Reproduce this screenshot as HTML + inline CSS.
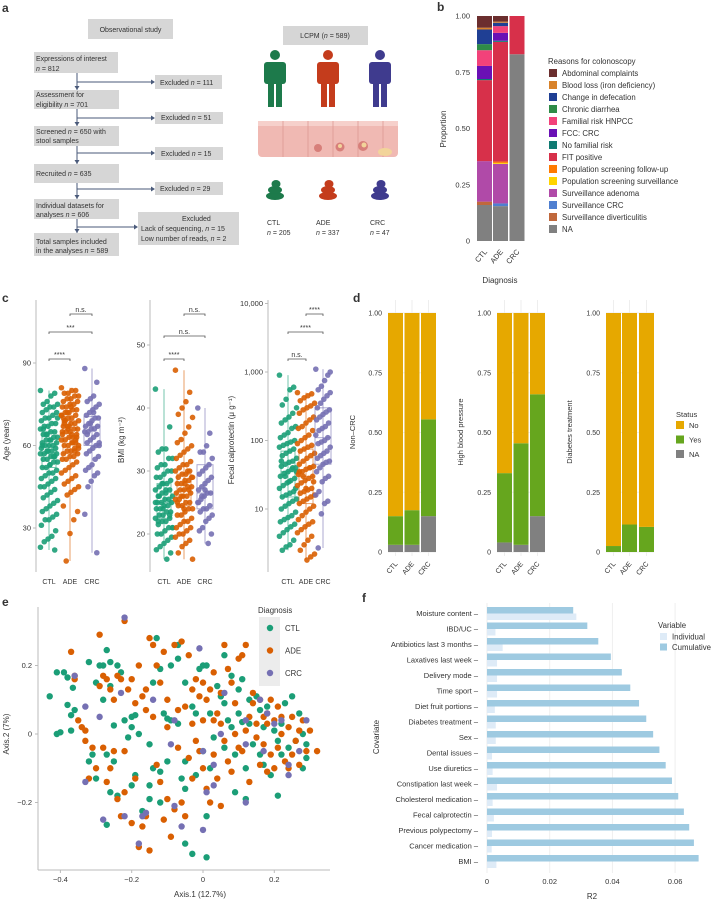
<!DOCTYPE html>
<html><head><meta charset="utf-8">
<style>
html,body{margin:0;padding:0;background:#fff;}
svg{display:block;font-family:"Liberation Sans",sans-serif;}
text{fill:#333;}
</style></head>
<body>
<svg id="fig" width="721" height="902" viewBox="0 0 721 902" xmlns="http://www.w3.org/2000/svg">
<!-- panel letters -->
<g font-weight="bold" font-size="12">
<text x="2" y="12" fill="#000">a</text><text x="437" y="11" fill="#000">b</text>
<text x="2" y="302" fill="#000">c</text><text x="353" y="302" fill="#000">d</text>
<text x="2" y="606" fill="#000">e</text><text x="362" y="602" fill="#000">f</text>
</g>
<!-- panel a flowchart -->
<g id="flow" font-size="7">
<rect x="88" y="19" width="85" height="20" fill="#d6d6d6"/>
<text x="130.5" y="32" text-anchor="middle">Observational study</text>
<line x1="77" y1="73" x2="77" y2="233" stroke="#4a5a7a" stroke-width="1"/>
<g fill="#d6d6d6">
<rect x="34" y="52" width="84" height="21"/><rect x="34" y="90" width="85" height="19"/>
<rect x="34" y="126" width="85" height="20"/><rect x="34" y="164" width="85" height="19"/>
<rect x="34" y="199" width="85" height="20"/><rect x="34" y="233" width="85" height="23"/>
<rect x="155" y="75" width="67" height="14"/><rect x="155" y="112" width="68" height="12"/>
<rect x="155" y="147" width="68" height="13"/><rect x="155" y="182" width="68" height="13"/>
<rect x="138" y="212" width="101" height="33"/>
</g>
<g stroke="#4a5a7a" stroke-width="1" fill="none">
<line x1="77" y1="82" x2="152" y2="82"/><line x1="77" y1="118" x2="152" y2="118"/>
<line x1="77" y1="153" x2="152" y2="153"/><line x1="77" y1="189" x2="152" y2="189"/>
<line x1="77" y1="227" x2="135" y2="227"/>
</g>
<g fill="#4a5a7a">
<path d="M155,82 l-4,-2.5 v5z"/><path d="M155,118 l-4,-2.5 v5z"/><path d="M155,153 l-4,-2.5 v5z"/><path d="M155,189 l-4,-2.5 v5z"/><path d="M138,227 l-4,-2.5 v5z"/>
<path d="M77,90 l-2.5,-4 h5z"/><path d="M77,126 l-2.5,-4 h5z"/><path d="M77,164 l-2.5,-4 h5z"/><path d="M77,199 l-2.5,-4 h5z"/><path d="M77,233 l-2.5,-4 h5z"/>
</g>
<text x="36" y="61">Expressions of interest</text><text x="36" y="71"><tspan font-style="italic">n</tspan> = 812</text>
<text x="36" y="97">Assessment for</text><text x="36" y="107">eligibility <tspan font-style="italic">n</tspan> = 701</text>
<text x="36" y="134">Screened <tspan font-style="italic">n</tspan> = 650 with</text><text x="36" y="143">stool samples</text>
<text x="36" y="176">Recruited <tspan font-style="italic">n</tspan> = 635</text>
<text x="36" y="208">Individual datasets for</text><text x="36" y="217">analyses <tspan font-style="italic">n</tspan> = 606</text>
<text x="36" y="244">Total samples included</text><text x="36" y="253">in the analyses <tspan font-style="italic">n</tspan> = 589</text>
<text x="160" y="85">Excluded <tspan font-style="italic">n</tspan> = 111</text>
<text x="161" y="120">Excluded <tspan font-style="italic">n</tspan> = 51</text>
<text x="161" y="156">Excluded <tspan font-style="italic">n</tspan> = 15</text>
<text x="160" y="191">Excluded <tspan font-style="italic">n</tspan> = 29</text>
<text x="182" y="221">Excluded</text>
<text x="141" y="231">Lack of sequencing, <tspan font-style="italic">n</tspan> = 15</text>
<text x="141" y="241">Low number of reads, <tspan font-style="italic">n</tspan> = 2</text>
</g>
<!-- panel a illustration -->
<g font-size="7">
<rect x="283" y="26" width="85" height="19" fill="#d6d6d6"/>
<text x="325" y="38" text-anchor="middle">LCPM (<tspan font-style="italic">n</tspan> = 589)</text>
<g fill="#1d7a4b"><circle cx="275" cy="55" r="5"/><rect x="264" y="62" width="22" height="22" rx="3"/><rect x="268" y="80" width="6" height="27"/><rect x="276" y="80" width="6" height="27"/></g>
<g fill="#c43c1c"><circle cx="328" cy="55" r="5"/><rect x="317" y="62" width="22" height="22" rx="3"/><rect x="321" y="80" width="6" height="27"/><rect x="329" y="80" width="6" height="27"/></g>
<g fill="#3f3b8e"><circle cx="380" cy="55" r="5"/><rect x="369" y="62" width="22" height="22" rx="3"/><rect x="373" y="80" width="6" height="27"/><rect x="381" y="80" width="6" height="27"/></g>
<g>
<rect x="258" y="121" width="140" height="36" fill="#f0b9b3" rx="4"/>
<rect x="258" y="121" width="140" height="5" fill="#f6d0cb"/>
<g stroke="#dd9a94" stroke-width="0.8"><line x1="283" y1="121" x2="283" y2="157"/><line x1="308" y1="121" x2="308" y2="157"/><line x1="333" y1="121" x2="333" y2="157"/><line x1="358" y1="121" x2="358" y2="157"/><line x1="383" y1="121" x2="383" y2="157"/></g>
<circle cx="318" cy="148" r="4" fill="#d77f7a"/><circle cx="340" cy="147" r="4.5" fill="#d77f7a"/><circle cx="340" cy="146" r="2" fill="#f2d49a"/>
<circle cx="363" cy="146" r="5" fill="#d77f7a"/><circle cx="364" cy="145" r="2.5" fill="#f2d49a"/><ellipse cx="385" cy="152" rx="7" ry="4" fill="#f2d49a"/>
</g>
<g fill="#1d7a4b"><ellipse cx="275" cy="196" rx="9" ry="4"/><ellipse cx="275" cy="190" rx="7" ry="4"/><ellipse cx="276" cy="184" rx="4.5" ry="4"/></g>
<g fill="#c43c1c"><ellipse cx="328" cy="196" rx="9" ry="4"/><ellipse cx="328" cy="190" rx="7" ry="4"/><ellipse cx="329" cy="184" rx="4.5" ry="4"/></g>
<g fill="#3f3b8e"><ellipse cx="380" cy="196" rx="9" ry="4"/><ellipse cx="380" cy="190" rx="7" ry="4"/><ellipse cx="381" cy="184" rx="4.5" ry="4"/></g>
<text x="267" y="225">CTL</text><text x="267" y="235"><tspan font-style="italic">n</tspan> = 205</text>
<text x="316" y="225">ADE</text><text x="316" y="235"><tspan font-style="italic">n</tspan> = 337</text>
<text x="370" y="225">CRC</text><text x="370" y="235"><tspan font-style="italic">n</tspan> = 47</text>
</g>
<g id="pb"></g>
<g id="pc"></g>
<g id="pd"></g>
<g id="pe"></g>
<g id="pf"></g>
</svg>
<script>
const NS="http://www.w3.org/2000/svg";
function mk(p,tag,a,txt){const e=document.createElementNS(NS,tag);for(const k in a)e.setAttribute(k,a[k]);if(txt!==undefined)e.textContent=txt;p.appendChild(e);return e;}

/* ---------- Panel b data ---------- */
const bCats=["CTL","ADE","CRC"];
const bReasons=["Abdominal complaints","Blood loss (iron deficiency)","Change in defecation","Chronic diarrhea","Familial risk HNPCC","FCC: CRC","No familial risk","FIT positive","Population screening follow-up","Population screening surveillance","Surveillance adenoma","Surveillance CRC","Surveillance diverticulitis","NA"];
const bColors=["#6b2e2e","#d8822a","#1f3f94","#2e8b47","#f2427a","#6a10b5","#0f7a72","#d7304a","#ff7a00","#ffd400","#b04aa8","#4f7fd0","#c0683c","#808080"];
const bCTL=[0.052,0.008,0.065,0.027,0.07,0.058,0.005,0.36,0,0,0.18,0,0.015,0.16];
const bADE=[0.025,0.005,0.015,0,0.03,0.035,0.005,0.532,0.006,0.004,0.176,0.012,0,0.155];
const bCRC=[0,0,0,0,0,0,0,0.17,0,0,0,0,0,0.83];
(function(){
 const g=document.getElementById('pb');
 const y=v=>241-v*225, x0=[477,493,509.5], bw=15;
 [0,0.25,0.5,0.75,1].forEach((t,i)=>{const lab=["0","0.25","0.50","0.75","1.00"][i];
  const e=mk(g,'text',{x:470,y:y(t)+2.5,'text-anchor':'end','font-size':7.5},lab);
  });
 const ylab=mk(g,'text',{x:446,y:129,'text-anchor':'middle','font-size':8,transform:'rotate(-90 446 129)'},"Proportion");
 
 [bCTL,bADE,bCRC].forEach((vals,ci)=>{
  let acc=0;
  for(let k=vals.length-1;k>=0;k--){const v=vals[k];if(v<=0)continue;
   const r=mk(g,'rect',{x:x0[ci],y:y(acc+v),width:bw,height:v*225,fill:bColors[k]});
   acc+=v;}
  const t=mk(g,'text',{x:x0[ci]+bw/2+3,y:252,'text-anchor':'end','font-size':7.5,transform:`rotate(-50 ${x0[ci]+bw/2+3} 252)`},bCats[ci]);
  
 });
 const xt=mk(g,'text',{x:500,y:283,'text-anchor':'middle','font-size':8},"Diagnosis");
 
 const lt=mk(g,'text',{x:548,y:64,'font-size':7.8},"Reasons for colonoscopy");
 
 bReasons.forEach((r,i)=>{const yy=69+i*12;
  const s=mk(g,'rect',{x:549,y:yy,width:8,height:8,fill:bColors[i]});
  
  const t=mk(g,'text',{x:562,y:yy+7,'font-size':7.8},r);
  });
})();

/* ---------- Panel c data ---------- */
const cGroups=["CTL","ADE","CRC"];
const cColors=["#1b9e77","#d95f02","#7570b3"];
const ageCTL=[80,79,78,76,75,75,74,74,73,72,72,71,70,70,69,68,68,67,67,66,65,65,64,64,63,63,62,62,61,61,60,60,60,59,59,58,58,57,57,56,56,55,55,54,54,53,52,52,51,50,50,49,48,48,47,46,45,45,44,43,42,41,40,39,38,37,36,35,34,33,33,31,29,27,26,25,23,22,62,58,66,70,56,53,64,60,57];
const ageADE=[81,80,80,79,79,78,78,77,77,76,76,75,75,74,74,73,73,72,72,71,71,70,70,69,69,68,68,67,67,66,66,65,65,64,64,63,63,62,62,61,61,60,60,59,59,58,58,57,57,56,56,55,55,54,53,52,51,50,49,48,47,46,45,44,43,42,38,36,33,28,18,65,63,61,67,69,71,62,64,66,68,60,58,74,72,70];
const ageCRC=[88,83,78,77,76,75,74,73,72,71,70,70,69,68,67,67,66,66,65,65,64,63,62,61,60,60,59,58,57,56,55,53,52,51,50,49,47,45,35,21,72,68,64,61];
const ageBox=[[52,57,65],[57,63,69],[60,67,70.5]];
const bmiCTL=[43,37,33.5,33.5,33,32,32,31,31,30.5,30,30,29.5,29,29,28.5,28,28,27.5,27,27,26.5,26.5,26,26,25.5,25.5,25,25,25,24.5,24.5,24,24,23.5,23.5,23,23,22.5,22.5,22,22,21.5,21,21,20.5,20,20,19.5,19,18.5,18,17.5,17,16,24,26,25,23,27,28,22,21];
const bmiADE=[46,42.5,41,40,39,38.5,37,36,35,34.5,34,33.5,33,32.5,32,31.5,31,31,30.5,30,30,29.5,29.5,29,29,28.5,28.5,28,28,27.5,27.5,27,27,26.5,26.5,26,26,25.5,25.5,25,25,24.5,24.5,24,24,23.5,23,23,22.5,22,22,21.5,21,21,20.5,20,20,19.5,19,18.5,18,17,16,27,28,26,25,29,30,24];
const bmiCRC=[40,36,34,33,33,32,31,30.5,30,29.5,29,28.5,28,27.5,27,26.5,26.5,26,25.5,25,24.5,24,24,23.5,23,22.5,22,21,20.5,20,18.5,27,26,25];
const bmiBox=[[22.5,25,28],[24.5,27,29.5],[24,26.5,31]];
const fcCTL=[900,600,550,400,330,300,250,220,200,180,160,150,130,120,110,100,95,90,85,80,75,70,65,60,55,50,48,45,42,40,38,35,33,30,28,26,24,22,20,18,17,16,15,14,13,12,11,10,9,8,7.5,7,6.5,6,5.5,5,4.5,4,3.5,3,2.8,2.5,35,40,25,30,50,20];
const fcADE=[500,480,450,420,380,350,320,300,280,250,220,200,180,160,150,140,120,110,100,90,85,80,75,70,65,60,55,50,45,42,40,38,35,32,30,28,26,24,22,20,19,18,17,16,15,14,13,12,11,10,9,8,7,6.5,6,5.5,5,4.5,4,3.5,3,2.5,2.2,2,1.8,30,35,25,40,20];
const fcCRC=[1100,900,750,620,550,500,450,400,350,300,280,260,240,220,200,180,160,150,140,120,110,100,95,90,80,70,65,60,55,50,48,45,40,35,30,28,25,18,16,13,12,8.5,2.7,1000];
const fcBox=[[15,35,70],[12,30,75],[45,110,300]];
const ageTicks=[30,60,90], bmiTicks=[20,30,40,50], fcTicks=[10,100,1000,10000];
const fcTickLabels=["10","100","1,000","10,000"];
(function(){
 const g=document.getElementById('pc');
 const panels=[
  {ax:36,gx:[49,70,92],scale:v=>528-(v-30)*2.75,ticks:ageTicks,tl:ageTicks.map(String),data:[ageCTL,ageADE,ageCRC],box:ageBox,lab:"Age (years)",labx:9,
   sig:[["n.s.",1,2,314],["***",0,2,332],["****",0,1,359]]},
  {ax:150,gx:[164,184,205],scale:v=>534-(v-20)*6.3,ticks:bmiTicks,tl:bmiTicks.map(String),data:[bmiCTL,bmiADE,bmiCRC],box:bmiBox,lab:"BMI (kg m⁻²)",labx:124,
   sig:[["n.s.",1,2,314],["n.s.",0,2,336],["****",0,1,359]]},
  {ax:268,gx:[288,306,323],scale:v=>509-(Math.log10(v)-1)*68.5,ticks:fcTicks,tl:fcTickLabels,data:[fcCTL,fcADE,fcCRC],box:fcBox,lab:"Fecal calprotectin (μ g⁻¹)",labx:234,
   sig:[["****",1,2,314],["****",0,2,332],["n.s.",0,1,359]]}];
 panels.forEach((p,pi)=>{
  const al=mk(g,'line',{x1:p.ax,y1:300,x2:p.ax,y2:572,stroke:'#bbb','stroke-width':1});
  
  p.ticks.forEach((t,i)=>{const yy=p.scale(t);
   mk(g,'line',{x1:p.ax-3,y1:yy,x2:p.ax,y2:yy,stroke:'#bbb'});
   const e=mk(g,'text',{x:p.ax-5,y:yy+2.5,'text-anchor':'end','font-size':7.5},p.tl[i]);
   });
  const l=mk(g,'text',{x:p.labx,y:440,'text-anchor':'middle','font-size':8,transform:`rotate(-90 ${p.labx} 440)`},p.lab);
  
  p.data.forEach((arr,gi)=>{const cx=p.gx[gi],b=p.box[gi],hw=gi==2?8:7;
   const bx=mk(g,'rect',{x:cx-hw,y:p.scale(b[2]),width:hw*2,height:p.scale(b[0])-p.scale(b[2]),fill:'none',stroke:cColors[gi],'stroke-opacity':0.6});
   
   mk(g,'line',{x1:cx-hw,x2:cx+hw,y1:p.scale(b[1]),y2:p.scale(b[1]),stroke:cColors[gi],'stroke-opacity':0.6});
   const mx=Math.max(...arr),mn=Math.min(...arr);
   mk(g,'line',{x1:cx,x2:cx,y1:p.scale(mx),y2:p.scale(mn),stroke:cColors[gi],'stroke-opacity':0.6});
   arr.forEach((v,i)=>{const jit=(((i*53)%19)-9)*(gi==2?0.8:0.95);
    const c=mk(g,'circle',{cx:cx+jit,cy:p.scale(v),r:2.8,fill:cColors[gi],'fill-opacity':0.9});
    });
   const t=mk(g,'text',{x:cx,y:584,'text-anchor':'middle','font-size':7},cGroups[gi]);
   
  });
  p.sig.forEach(s=>{const x1=p.gx[s[1]],x2=p.gx[s[2]];
   const br=mk(g,'path',{d:`M${x1},${s[3]+2}V${s[3]}H${x2}V${s[3]+2}`,fill:'none',stroke:'#555','stroke-width':0.8});
   
   const t=mk(g,'text',{x:(x1+x2)/2,y:s[3]-2,'text-anchor':'middle','font-size':7},s[0]);
   });
 });
})();

/* ---------- Panel d data ---------- */
const dCats=["CTL","ADE","CRC"];
const dStatus=["No","Yes","NA"];
const dColors=["#e6a800","#66a61e","#808080"];
const dNonCrcYes=[0.12,0.145,0.405], dNonCrcNA=[0.03,0.03,0.15];
const dHbpYes=[0.29,0.425,0.51], dHbpNA=[0.04,0.03,0.15];
const dDiabYes=[0.025,0.115,0.105], dDiabNA=[0,0,0];
(function(){
 const g=document.getElementById('pd');
 const y=v=>552-v*239;
 const subs=[{x:[388,404.5,421],lab:"Non–CRC",lx:355,tx:382,yes:dNonCrcYes,na:dNonCrcNA},
  {x:[497,513.5,530],lab:"High blood pressure",lx:463,tx:491,yes:dHbpYes,na:dHbpNA},
  {x:[606,622,639],lab:"Diabetes treatment",lx:572,tx:600,yes:dDiabYes,na:dDiabNA}];
 subs.forEach(s=>{
  [0,0.25,0.5,0.75,1].forEach((t,i)=>{const lab=["0","0.25","0.50","0.75","1.00"][i];
   mk(g,'line',{x1:s.x[0],x2:s.x[2]+15,y1:y(t),y2:y(t),stroke:'#eee'});
   const e=mk(g,'text',{x:s.tx,y:y(t)+2.5,'text-anchor':'end','font-size':7},lab);
   });
  s.x.forEach(xx=>mk(g,'line',{x1:xx+7.5,x2:xx+7.5,y1:300,y2:556,stroke:'#eee'}));
  const l=mk(g,'text',{x:s.lx,y:432,'text-anchor':'middle','font-size':7.5,transform:`rotate(-90 ${s.lx} 432)`},s.lab);
  
  s.x.forEach((xx,ci)=>{const na=s.na[ci],ye=s.yes[ci],no=1-na-ye;
   const segs=[[na,0,2],[ye,na,1],[no,na+ye,0]];
   segs.forEach(sg=>{if(sg[0]<=0)return;
    const r=mk(g,'rect',{x:xx,y:y(sg[1]+sg[0]),width:15,height:sg[0]*239,fill:dColors[sg[2]]});
    });
   const t=mk(g,'text',{x:xx+10,y:564,'text-anchor':'end','font-size':7,transform:`rotate(-50 ${xx+10} 564)`},dCats[ci]);
   });
 });
 const lt=mk(g,'text',{x:676,y:417,'font-size':7.5},"Status");
 
 dStatus.forEach((s,i)=>{const yy=421+i*14.5;
  const r=mk(g,'rect',{x:676,y:yy,width:8,height:8,fill:dColors[i]});
  
  const t=mk(g,'text',{x:689,y:yy+7,'font-size':7.5},s);
  });
})();

/* ---------- Panel e data ---------- */
const eGroups=["CTL","ADE","CRC"];
const eColors=["#1b9e77","#d95f02","#7570b3"];
const eCTL=[[-0.43,0.11],[-0.41,0.18],[-0.39,0.18],[-0.38,0.165],[-0.365,0.135],[-0.36,0.07],[-0.37,0.055],[-0.38,0.085],[-0.41,0],[-0.4,0.005],[-0.37,0.01],[-0.32,0.21],[-0.3,0.15],[-0.29,0.2],[-0.28,0.2],[-0.27,0.245],[-0.26,0.21],[-0.28,0.1],[-0.26,0.14],[-0.25,0.025],[-0.24,0.2],[-0.23,0.18],[-0.22,0.04],[-0.21,-0.01],[-0.2,0.05],[-0.2,0.02],[-0.19,0.055],[-0.32,-0.08],[-0.31,-0.06],[-0.3,-0.13],[-0.27,-0.06],[-0.26,-0.17],[-0.25,-0.08],[-0.24,-0.18],[-0.27,-0.265],[-0.2,-0.15],[-0.19,-0.12],[-0.18,0],[-0.17,-0.225],[-0.15,-0.19],[-0.15,-0.03],[-0.14,-0.1],[-0.14,0.15],[-0.13,0.28],[-0.12,0.19],[-0.11,0.06],[-0.1,0.045],[-0.12,-0.11],[-0.12,-0.2],[-0.1,-0.08],[-0.09,0.04],[-0.09,0.2],[-0.07,0.22],[-0.07,0.26],[-0.07,0.03],[-0.05,0.15],[-0.05,-0.08],[-0.05,-0.16],[-0.05,-0.32],[-0.03,-0.35],[-0.03,0.08],[-0.02,0.06],[-0.01,0.19],[0,-0.05],[0,0.2],[0.01,0.2],[0.01,-0.24],[0.01,-0.36],[0.02,0.06],[0.03,-0.01],[0.04,0.14],[0.05,0.11],[0.06,0.23],[0.06,0.09],[0.06,-0.04],[0.07,0.04],[0.08,0.17],[0.09,-0.06],[0.1,0.06],[0.1,0.13],[0.11,0.16],[0.11,0.035],[0.12,-0.1],[0.13,0.03],[0.14,-0.03],[0.15,0.11],[0.16,0.07],[0.16,-0.06],[0.17,0.02],[0.18,0.08],[0.19,-0.12],[0.2,0.01],[0.21,-0.02],[0.21,-0.18],[0.22,-0.06],[0.23,0.09],[0.24,-0.04],[0.25,0.11],[0.26,-0.02],[0.27,0.06],[0.28,0],[0.29,-0.03],[0.29,-0.07],[0.28,-0.1],[0.09,-0.17],[0.12,-0.19],[0.13,0.1],[0.22,0.03],[0.17,-0.09],[0.08,0.02],[-0.02,-0.12],[0.02,-0.1],[-0.15,-0.15],[-0.06,-0.13]];
const eADE=[[-0.37,0.24],[-0.36,0.17],[-0.35,0.04],[-0.34,0.02],[-0.36,0.16],[-0.33,0.01],[-0.33,-0.02],[-0.32,-0.13],[-0.31,-0.04],[-0.3,-0.1],[-0.29,0.29],[-0.29,0.14],[-0.28,0.17],[-0.28,-0.04],[-0.27,0.16],[-0.27,-0.14],[-0.26,0.13],[-0.26,-0.1],[-0.25,0.1],[-0.25,-0.05],[-0.24,0.17],[-0.23,0.16],[-0.24,-0.19],[-0.23,-0.24],[-0.22,0.33],[-0.22,-0.17],[-0.21,0.13],[-0.2,0.16],[-0.2,-0.26],[-0.19,0.09],[-0.18,0.2],[-0.18,-0.33],[-0.17,0.11],[-0.17,-0.27],[-0.16,0.13],[-0.16,0.07],[-0.16,-0.24],[-0.15,0.28],[-0.15,-0.34],[-0.14,0.05],[-0.14,0.26],[-0.13,0.2],[-0.13,-0.09],[-0.12,0.15],[-0.12,-0.14],[-0.11,0.24],[-0.11,-0.25],[-0.1,0.1],[-0.1,0.02],[-0.1,-0.19],[-0.09,-0.3],[-0.08,0.26],[-0.08,-0.22],[-0.07,0.07],[-0.06,0.27],[-0.06,-0.2],[-0.05,0.08],[-0.05,-0.24],[-0.04,0.23],[-0.04,-0.07],[-0.03,0.03],[-0.03,-0.13],[-0.02,0.16],[-0.02,-0.02],[-0.01,-0.05],[-0.01,0.11],[0,0.15],[0,-0.1],[0.01,0.1],[0.01,-0.16],[0.02,0.13],[0.02,-0.2],[0.03,0.04],[0.03,-0.06],[0.04,-0.13],[0.04,0.06],[0.05,-0.21],[0.05,0.12],[0.06,0.26],[0.06,-0.02],[0.07,0.19],[0.07,-0.08],[0.08,0.15],[0.08,-0.11],[0.09,0.09],[0.1,0.22],[0.1,-0.04],[0.11,0.23],[0.11,-0.05],[0.12,0.01],[0.12,0.26],[0.13,0.05],[0.13,-0.14],[0.14,0.09],[0.15,-0.01],[0.15,0.03],[0.16,0.1],[0.16,-0.09],[0.17,0.05],[0.17,-0.03],[0.18,-0.11],[0.18,0.03],[0.19,0.1],[0.19,-0.06],[0.2,0.04],[0.2,-0.1],[0.21,0.08],[0.21,-0.04],[0.22,0],[0.22,0.05],[0.23,-0.08],[0.24,0.02],[0.24,-0.1],[0.25,0.05],[0.25,-0.06],[0.26,-0.02],[0.27,0.01],[0.27,-0.09],[0.28,0.04],[0.29,-0.05],[0.3,0.01],[0.32,-0.05],[0.14,0.12],[0.18,0.06],[0.09,0.0],[0.05,0.03],[-0.03,0.13],[-0.07,-0.04],[-0.19,-0.13],[-0.22,-0.05],[0.03,0.18],[0.0,0.04]];
const eCRC=[[-0.22,0.34],[-0.36,0.17],[-0.33,0.08],[-0.29,0.05],[-0.23,0.12],[-0.14,0.1],[-0.08,0.04],[-0.09,-0.03],[-0.33,-0.14],[-0.28,-0.25],[-0.22,-0.24],[-0.17,-0.24],[-0.16,-0.23],[-0.18,-0.32],[-0.08,-0.21],[-0.06,-0.27],[-0.01,0.25],[0,-0.28],[0.01,-0.17],[0.03,-0.15],[0.03,-0.09],[0.05,0.0],[0.0,-0.05],[0.06,0.12],[0.12,0.04],[0.12,-0.03],[0.17,-0.05],[0.18,0.06],[0.2,0.03],[0.22,0.04],[0.24,-0.12],[0.24,-0.09],[0.27,-0.05],[0.29,0.04],[0.12,-0.2],[0.16,0.1]];
const eXTicks=[-0.4,-0.2,0,0.2], eYTicks=[-0.2,0,0.2];
(function(){
 const g=document.getElementById('pe');
 const sx=v=>203+v*356.5, sy=v=>734-v*342.5;
 mk(g,'line',{x1:38,y1:607,x2:38,y2:870,stroke:'#bbb'});
 mk(g,'line',{x1:38,y1:870,x2:330,y2:870,stroke:'#bbb'});
 eXTicks.forEach(t=>{mk(g,'line',{x1:sx(t),x2:sx(t),y1:870,y2:873,stroke:'#bbb'});
  const e=mk(g,'text',{x:sx(t),y:882,'text-anchor':'middle','font-size':7.5},t==0?"0":t.toFixed(1).replace('-','−'));
  });
 eYTicks.forEach(t=>{mk(g,'line',{x1:35,x2:38,y1:sy(t),y2:sy(t),stroke:'#bbb'});
  const e=mk(g,'text',{x:32,y:sy(t)+2.5,'text-anchor':'end','font-size':7.5},t==0?"0":t.toFixed(1).replace('-','−'));
  });
 const xl=mk(g,'text',{x:200,y:897,'text-anchor':'middle','font-size':8},"Axis.1 (12.7%)");
 
 const yl=mk(g,'text',{x:9,y:734,'text-anchor':'middle','font-size':8,transform:'rotate(-90 9 734)'},"Axis.2 (7%)");
 
 [eCTL,eADE,eCRC].forEach((arr,gi)=>arr.forEach(p=>{
  const c=mk(g,'circle',{cx:sx(p[0]),cy:sy(p[1]),r:3.2,fill:eColors[gi]});
  }));
 const lt=mk(g,'text',{x:258,y:613,'font-size':7.8},"Diagnosis");
 
 mk(g,'rect',{x:259,y:617,width:21,height:69,fill:'#ececec'});
 eGroups.forEach((s,i)=>{const yy=628+i*22.5;
  const c=mk(g,'circle',{cx:270,cy:yy,r:3.2,fill:eColors[i]});
  
  const t=mk(g,'text',{x:285,y:yy+3,'font-size':7.8},s);
  });
})();

/* ---------- Panel f data ---------- */
const fCovariates=["Moisture content","IBD/UC","Antibiotics last 3 months","Laxatives last week","Delivery mode","Time sport","Diet fruit portions","Diabetes treatment","Sex","Dental issues","Use diuretics","Constipation last week","Cholesterol medication","Fecal calprotectin","Previous polypectomy","Cancer medication","BMI"];
const fCumulative=[0.0275,0.032,0.0355,0.0395,0.043,0.0457,0.0485,0.0508,0.053,0.055,0.057,0.059,0.061,0.0628,0.0645,0.066,0.0675];
const fIndividual=[0.0285,0.0027,0.005,0.0032,0.0032,0.0032,0.0025,0.0028,0.0028,0.0016,0.0018,0.0032,0.0018,0.0022,0.0016,0.0015,0.003];
const fTicks=[0,0.02,0.04,0.06], fTickLabels=["0","0.02","0.04","0.06"];
(function(){
 const g=document.getElementById('pf');
 const sx=v=>487+v*3135;
 fTicks.forEach((t,i)=>{mk(g,'line',{x1:sx(t),x2:sx(t),y1:603,y2:873,stroke:'#eee'});
  const e=mk(g,'text',{x:sx(t),y:884,'text-anchor':'middle','font-size':7.5},fTickLabels[i]);
  });
 fCovariates.forEach((c,i)=>{const yc=613.5+i*15.5;
  const r1=mk(g,'rect',{x:487,y:yc-6.5,width:sx(fCumulative[i])-487,height:6.5,fill:'#9ecae1'});
  
  const r2=mk(g,'rect',{x:487,y:yc,width:sx(fIndividual[i])-487,height:6.5,fill:'#deebf7'});
  
  const t=mk(g,'text',{x:478,y:yc+2.5,'text-anchor':'end','font-size':7.5},c+" –");
  });
 const xl=mk(g,'text',{x:592,y:899,'text-anchor':'middle','font-size':8},"R2");
 
 const yl=mk(g,'text',{x:379,y:737,'text-anchor':'middle','font-size':8,transform:'rotate(-90 379 737)'},"Covariate");
 
 const lt=mk(g,'text',{x:658,y:628,'font-size':7.8},"Variable");
 
 [["Individual","#deebf7"],["Cumulative","#9ecae1"]].forEach((s,i)=>{const yy=633+i*10.5;
  const r=mk(g,'rect',{x:660,y:yy,width:7,height:7,fill:s[1]});
  
  const t=mk(g,'text',{x:672,y:yy+6.5,'font-size':7.8},s[0]);
  });
})();
</script>
</body></html>
